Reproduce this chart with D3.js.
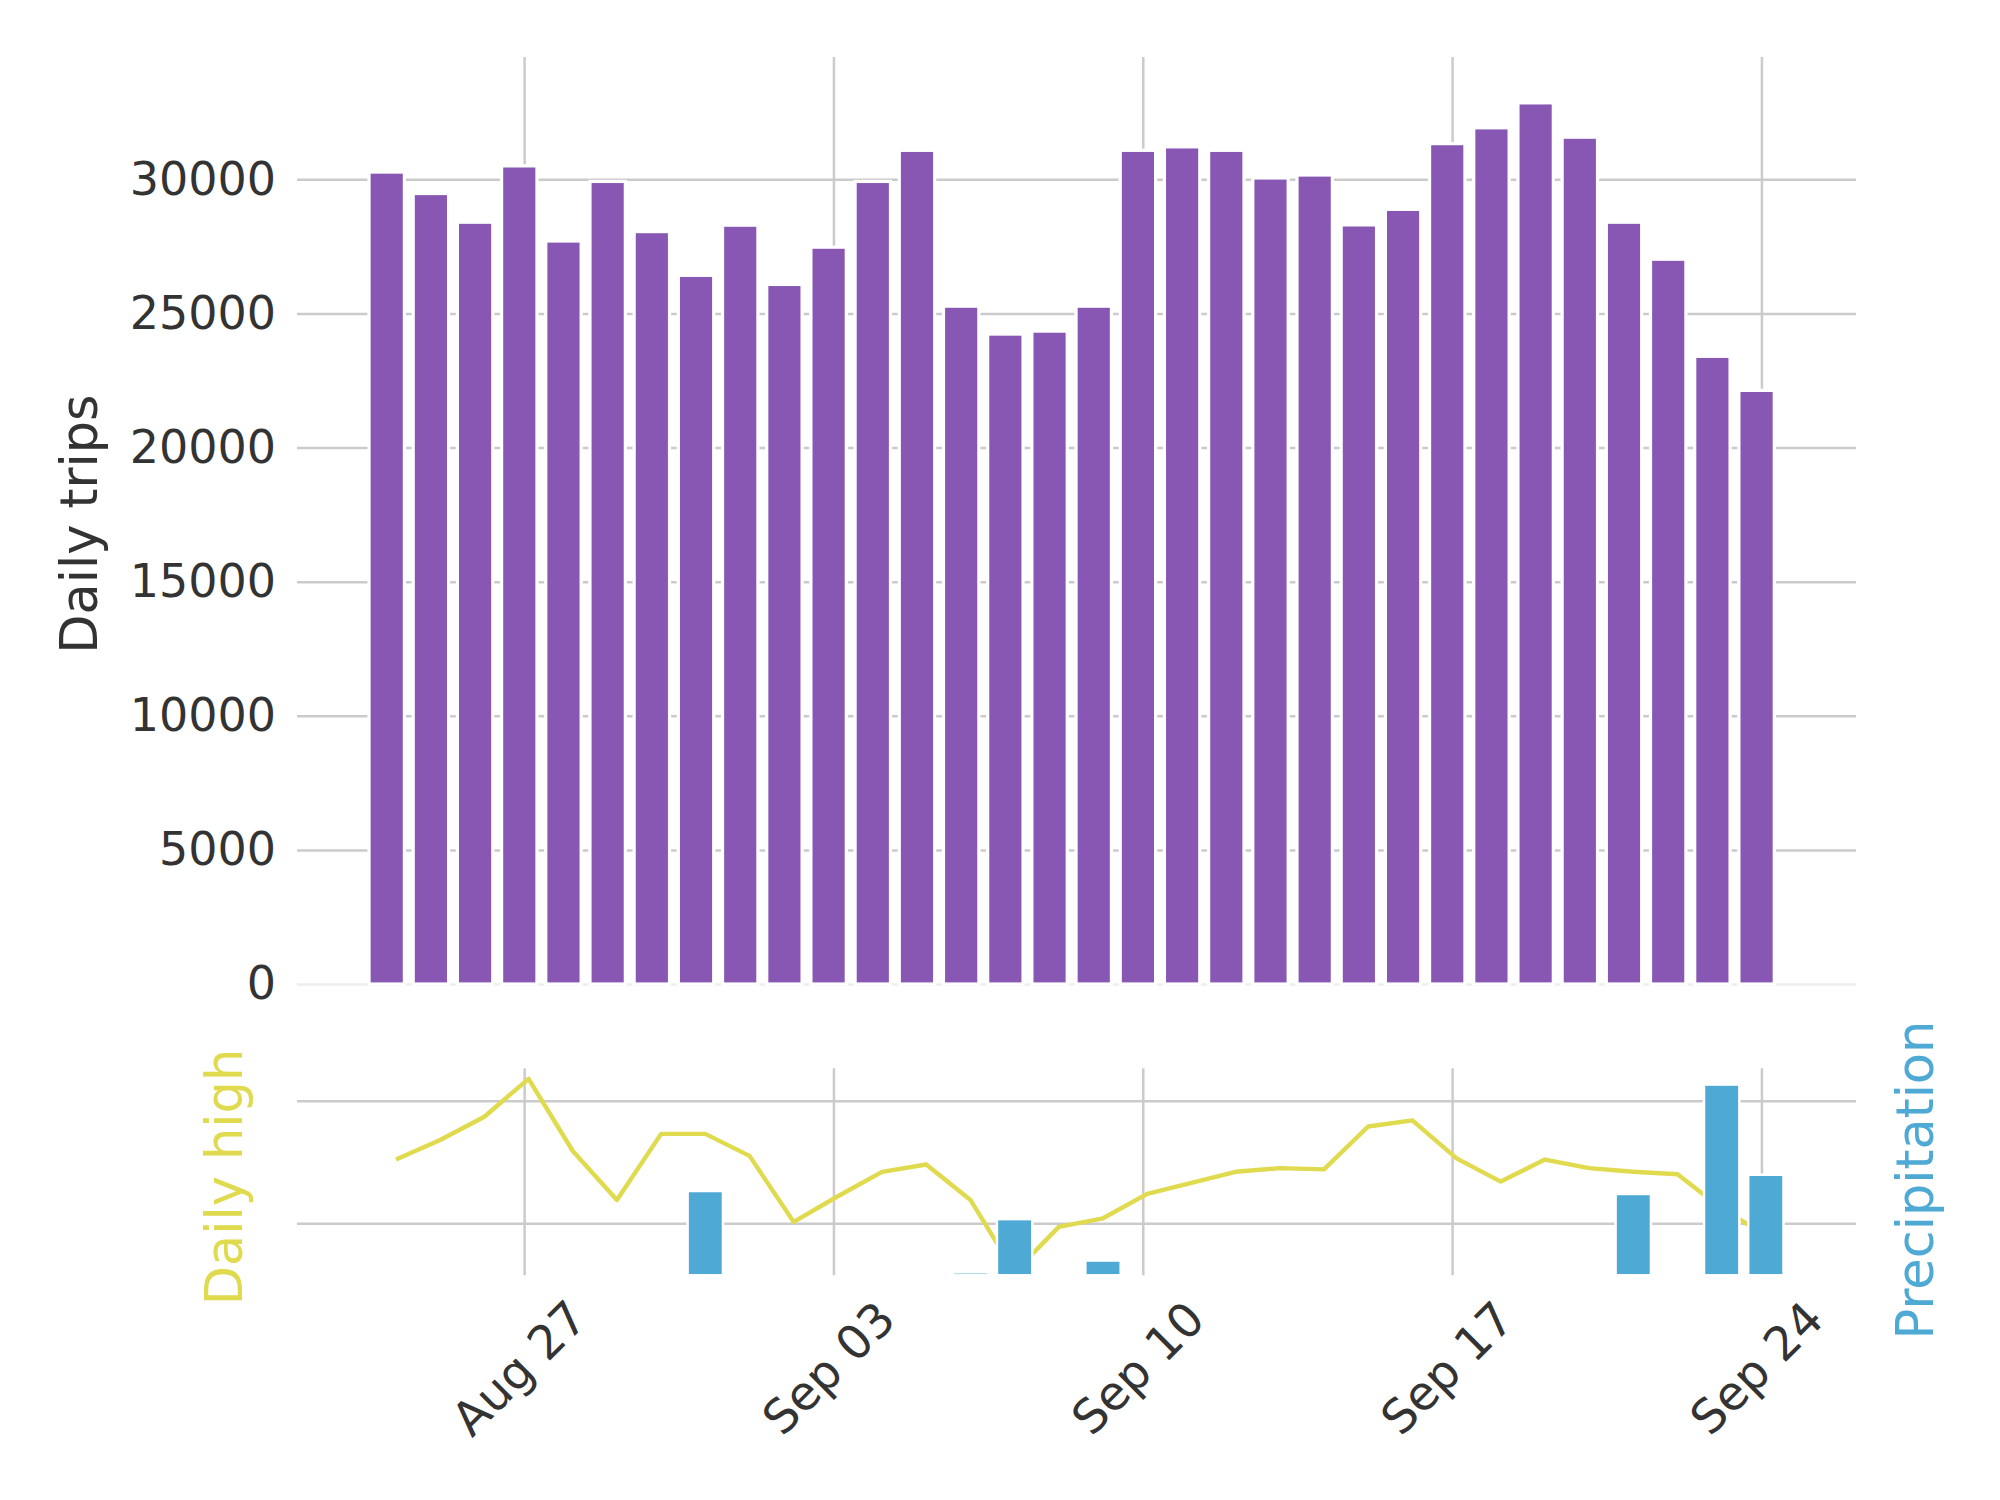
<!DOCTYPE html>
<html>
<head>
<meta charset="utf-8">
<script src="https://cdn.jsdelivr.net/npm/d3@7"></script>
<style>
  body { margin: 0; background: #ffffff; }
  text { font-family: "DejaVu Sans", sans-serif; }
</style>
</head>
<body>
<svg id="chart" width="2000" height="1500"></svg>
<script>
// ---------------- data ----------------
const dates = [
  "2017-08-24","2017-08-25","2017-08-26","2017-08-27","2017-08-28","2017-08-29","2017-08-30","2017-08-31",
  "2017-09-01","2017-09-02","2017-09-03","2017-09-04","2017-09-05","2017-09-06","2017-09-07","2017-09-08",
  "2017-09-09","2017-09-10","2017-09-11","2017-09-12","2017-09-13","2017-09-14","2017-09-15","2017-09-16",
  "2017-09-17","2017-09-18","2017-09-19","2017-09-20","2017-09-21","2017-09-22","2017-09-23","2017-09-24"
];
const trips = [
  30270, 29470, 28400, 30500, 27700, 29920, 28050, 26420,
  28290, 26080, 27470, 29920, 31080, 25270, 24230, 24340,
  25270, 31080, 31210, 31080, 30050, 30160, 28300, 28880,
  31330, 31920, 32850, 31570, 28400, 27020, 23400, 22130
];
const dailyHigh = [
  85.2, 86.8, 88.7, 91.8, 85.9, 81.9, 87.3, 87.3,
  85.5, 80.1, 82.2, 84.2, 84.8, 81.9, 76.0, 79.7,
  80.4, 82.4, 83.3, 84.2, 84.5, 84.4, 87.9, 88.4,
  85.3, 83.4, 85.2, 84.5, 84.2, 84.0, 81.2, 79.0
];
const precipitation = [
  0, 0, 0, 0, 0, 0, 0, 0.57,
  0, 0, 0, 0, 0, 0.02, 0.38, 0,
  0.10, 0, 0, 0, 0, 0, 0, 0,
  0, 0, 0, 0, 0.55, 0, 1.29, 0.68
];
const tickDates = ["2017-08-27","2017-09-03","2017-09-10","2017-09-17","2017-09-24"];
const tripTicks = [0, 5000, 10000, 15000, 20000, 25000, 30000];
const tempGridTicks = [80, 90];
const tripsMax = 34560;
const tempDomain = [75.74, 92.66];
const precipDomain = [0, 1.40];

// ---------------- layout ----------------
const parse = d3.utcParse("%Y-%m-%d");
const fmt = d3.utcFormat("%b %d");
const dayMs = 864e5;
const padDays = 2.14;
const topShiftDays = -0.11;   // bar placement offset seen in the reference
const botShiftDays = 0.10;
const plotLeft = 297, plotRight = 1856;
const topPanel = { top: 57, bottom: 984 };
const botPanel = { top: 1068.3, bottom: 1275.3 };

const colors = {
  trips: "#8757b3",
  high: "#e0da4e",
  precip: "#4ea9d5",
  grid: "#cbcbcb",
  text: "#333333"
};

const D = dates.map(parse);
const T = tickDates.map(parse);

const x = d3.scaleUtc()
  .domain([new Date(+D[0] - padDays * dayMs), new Date(+D[D.length - 1] + padDays * dayMs)])
  .range([plotLeft, plotRight]);
const dayPx = x(new Date(+D[0] + dayMs)) - x(D[0]);
const barW = 0.8 * dayPx;
const xTop = d => x(new Date(+d + topShiftDays * dayMs));
const xBot = d => x(new Date(+d + botShiftDays * dayMs));

const yTrips = d3.scaleLinear().domain([0, tripsMax]).range([topPanel.bottom, topPanel.top]);
const yTemp = d3.scaleLinear().domain(tempDomain).range([botPanel.bottom, botPanel.top]);
const yPrecip = d3.scaleLinear().domain(precipDomain).range([botPanel.bottom, botPanel.top]);

const svg = d3.select("#chart");
svg.append("rect").attr("width", 2000).attr("height", 1500).attr("fill", "#ffffff");

function styleGrid(g) {
  g.select(".domain").remove();
  g.selectAll(".tick line").attr("stroke", colors.grid).attr("stroke-width", 2.5);
}

// ---------- top panel ----------
const gTop = svg.append("g");
gTop.append("g")
  .attr("transform", `translate(0,${topPanel.bottom})`)
  .call(d3.axisBottom(x).tickValues(T).tickSize(-(topPanel.bottom - topPanel.top)).tickFormat(""))
  .call(styleGrid);
const yAx = gTop.append("g")
  .attr("transform", `translate(${plotLeft},0)`)
  .call(d3.axisLeft(yTrips).tickValues(tripTicks).tickSize(-(plotRight - plotLeft)).tickPadding(21).tickFormat(d3.format("d")))
  .call(styleGrid);
yAx.selectAll(".tick text")
  .attr("font-size", 46).attr("fill", colors.text)
  .attr("font-family", "DejaVu Sans, sans-serif");
yAx.selectAll(".tick").filter(d => d === 0).select("line").attr("stroke", "#eeeeee");

gTop.append("g").selectAll("rect")
  .data(D.map((d, i) => ({ d, v: trips[i] })))
  .join("rect")
  .attr("x", p => xTop(p.d) - barW / 2)
  .attr("width", barW)
  .attr("y", p => yTrips(p.v))
  .attr("height", p => yTrips(0) - yTrips(p.v))
  .attr("fill", colors.trips)
  .attr("stroke", "#ffffff")
  .attr("stroke-width", 3.2);

// ---------- bottom panel ----------
const gBot = svg.append("g");
gBot.append("g")
  .attr("transform", `translate(0,${botPanel.bottom})`)
  .call(d3.axisBottom(x).tickValues(T).tickSize(-(botPanel.bottom - botPanel.top)).tickFormat(""))
  .call(styleGrid);
gBot.append("g")
  .attr("transform", `translate(${plotLeft},0)`)
  .call(d3.axisLeft(yTemp).tickValues(tempGridTicks).tickSize(-(plotRight - plotLeft)).tickFormat(""))
  .call(styleGrid);

gBot.append("path")
  .datum(D.map((d, i) => ({ d, v: dailyHigh[i] })))
  .attr("fill", "none")
  .attr("stroke", colors.high)
  .attr("stroke-width", 4.4)
  .attr("stroke-linejoin", "round")
  .attr("d", d3.line().x(p => xBot(p.d)).y(p => yTemp(p.v)));

gBot.append("g").selectAll("rect")
  .data(D.map((d, i) => ({ d, v: precipitation[i] })).filter(p => p.v > 0))
  .join("rect")
  .attr("x", p => xBot(p.d) - barW / 2)
  .attr("width", barW)
  .attr("y", p => yPrecip(p.v))
  .attr("height", p => yPrecip(0) - yPrecip(p.v))
  .attr("fill", colors.precip)
  .attr("stroke", "#ffffff")
  .attr("stroke-width", 2.5);

// x tick labels (rotated)
svg.append("g").selectAll("text")
  .data(T)
  .join("text")
  .attr("transform", d => `translate(${x(d) - 5},1368) rotate(-45)`)
  .attr("text-anchor", "middle")
  .attr("dominant-baseline", "central")
  .attr("font-size", 47)
  .attr("fill", colors.text)
  .text(d => fmt(d));

// axis titles
svg.append("text")
  .attr("transform", `translate(97,524) rotate(-90)`)
  .attr("text-anchor", "middle")
  .attr("font-size", 51)
  .attr("fill", colors.text)
  .text("Daily trips");
svg.append("text")
  .attr("transform", `translate(242,1177) rotate(-90)`)
  .attr("text-anchor", "middle")
  .attr("font-size", 51)
  .attr("fill", colors.high)
  .text("Daily high");
svg.append("text")
  .attr("transform", `translate(1933,1180) rotate(-90)`)
  .attr("text-anchor", "middle")
  .attr("font-size", 51)
  .attr("fill", colors.precip)
  .text("Precipitation");
</script>
</body>
</html>
